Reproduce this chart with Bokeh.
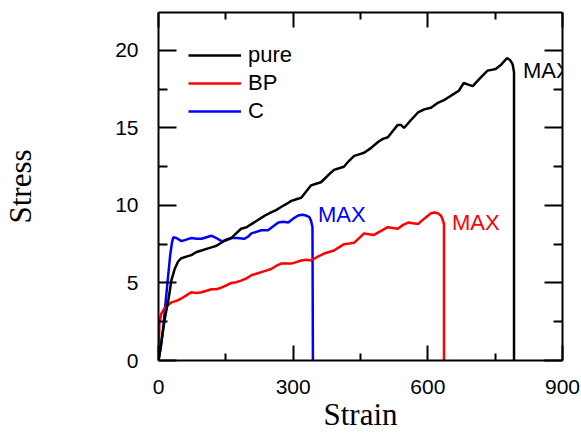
from bokeh.plotting import figure
from bokeh.models import LinearAxis, FixedTicker, Range1d, Legend, LegendItem, Label
from bokeh.embed import file_html
from bokeh.resources import INLINE

# ---- data ----
pure_strain = [0, 4, 8, 14, 22, 29, 36, 44, 51, 62, 73, 85, 96, 107, 118, 129, 140, 151, 162, 173,
               184, 196, 207, 218, 229, 240, 251, 262, 273, 285, 296, 307, 318, 329, 340, 351, 362,
               376, 391, 402, 413, 425, 436, 447, 458, 473, 489, 500, 511, 522, 533, 540, 547, 562,
               578, 592, 607, 621, 636, 647, 658, 669, 680, 690, 700, 716, 733, 742, 751, 764, 776,
               783, 789, 792, 792]
pure_stress = [0, 0.7, 1.5, 2.7, 3.9, 5.2, 5.9, 6.4, 6.6, 6.7, 6.8, 7.0, 7.1, 7.2, 7.3, 7.4, 7.6, 7.8,
               7.9, 8.2, 8.5, 8.6, 8.8, 9.0, 9.2, 9.4, 9.55, 9.7, 9.9, 10.1, 10.3, 10.4, 10.5, 10.9,
               11.3, 11.4, 11.5, 11.9, 12.3, 12.4, 12.5, 12.9, 13.2, 13.3, 13.4, 13.7, 14.1, 14.3,
               14.4, 14.8, 15.2, 15.2, 15.0, 15.5, 16.0, 16.2, 16.3, 16.6, 16.8, 17.0, 17.2, 17.4,
               17.9, 17.8, 17.7, 18.2, 18.7, 18.75, 18.8, 19.1, 19.5, 19.4, 19.1, 18.6, 0]

bp_strain = [0, 1, 2, 6, 14, 22, 29, 40, 51, 62, 73, 85, 96, 107, 118, 129, 140, 151, 162, 173, 184,
             196, 207, 218, 229, 240, 251, 262, 273, 285, 296, 307, 318, 329, 340, 355, 369, 380, 391,
             402, 413, 425, 436, 447, 458, 469, 480, 495, 511, 522, 533, 545, 556, 567, 578, 592, 607,
             615, 622, 629, 633, 636, 636]
bp_stress = [0, 1.2, 2.4, 3.0, 3.4, 3.6, 3.75, 3.85, 4.0, 4.2, 4.4, 4.35, 4.4, 4.5, 4.6, 4.6, 4.7,
             4.85, 5.0, 5.05, 5.15, 5.3, 5.5, 5.6, 5.7, 5.8, 5.9, 6.1, 6.25, 6.25, 6.25, 6.35, 6.45,
             6.5, 6.45, 6.7, 6.9, 7.0, 7.1, 7.3, 7.5, 7.55, 7.6, 7.9, 8.2, 8.15, 8.1, 8.35, 8.6, 8.55,
             8.5, 8.75, 8.9, 8.85, 8.8, 9.15, 9.5, 9.55, 9.5, 9.35, 9.1, 8.8, 0]

c_strain = [0, 5, 10, 14, 20, 26, 30, 33, 40, 51, 62, 73, 85, 96, 107, 118, 129, 140, 151, 162, 175,
            191, 200, 207, 218, 229, 244, 255, 267, 278, 289, 300, 311, 320, 329, 336, 340, 343, 344]
c_stress = [0, 0.8, 2.0, 3.2, 5.0, 6.8, 7.6, 7.95, 7.9, 7.7, 7.8, 7.9, 7.85, 7.85, 7.95, 8.05, 7.9,
            7.7, 7.75, 7.9, 7.9, 7.85, 8.0, 8.2, 8.3, 8.4, 8.4, 8.65, 8.9, 8.95, 8.9, 9.15, 9.35,
            9.4, 9.35, 9.25, 9.0, 8.6, 0]

series_names = ["pure", "BP", "C"]
max_label = "MAX"
x_title = "Strain"
y_title = "Stress"

x_ticks = [0, 300, 600, 900]
x_minor = [150, 450, 750]
y_ticks = [0, 5, 10, 15, 20]
y_minor = [2.5, 7.5, 12.5, 17.5]
x_lim = (0, 900)
y_lim = (0, 22.45)

SANS = "Liberation Sans"
SERIF = "Liberation Serif"

p = figure(width=581, height=434, output_backend="svg", toolbar_location=None,
           x_range=Range1d(*x_lim), y_range=Range1d(*y_lim),
           min_border_left=157, min_border_right=19, min_border_top=12, min_border_bottom=74,
           x_axis_label=x_title, y_axis_label=y_title)
p.grid.visible = False
p.outline_line_color = None
p.background_fill_color = "white"
p.border_fill_color = "white"


def style_axis(ax, major, minor, show):
    ax.axis_line_width = 2
    ax.axis_line_color = "black"
    ax.major_tick_line_width = 2
    ax.minor_tick_line_width = 2
    ax.major_tick_line_color = "black"
    ax.minor_tick_line_color = "black"
    ax.major_tick_in = major
    ax.major_tick_out = 0
    ax.minor_tick_in = minor
    ax.minor_tick_out = 0
    if show:
        ax.major_label_text_font = SANS
        ax.major_label_text_font_size = "21px"
        ax.major_label_text_color = "black"
        ax.axis_label_text_font = SERIF
        ax.axis_label_text_font_style = "normal"
        ax.axis_label_text_font_size = "31px"
        ax.axis_label_text_color = "black"
    else:
        ax.major_label_text_font_size = "1px"
        ax.major_label_text_color = None
        ax.major_label_standoff = 0


xax = p.xaxis[0]
xax.ticker = FixedTicker(ticks=x_ticks, minor_ticks=x_minor)
style_axis(xax, 15, 7, True)
xax.major_label_standoff = 19
xax.axis_label_standoff = 0

yax = p.yaxis[0]
yax.ticker = FixedTicker(ticks=y_ticks, minor_ticks=y_minor)
style_axis(yax, 18, 9, True)
yax.major_label_standoff = 20
yax.axis_label_standoff = 74

top = LinearAxis(ticker=FixedTicker(ticks=x_ticks, minor_ticks=x_minor))
style_axis(top, 15, 7, False)
p.add_layout(top, "above")

right = LinearAxis(ticker=FixedTicker(ticks=y_ticks, minor_ticks=y_minor))
style_axis(right, 18, 9, False)
p.add_layout(right, "right")

r_c = p.line(c_strain, c_stress, line_color="#0000ff", line_width=2.5)
r_bp = p.line(bp_strain, bp_stress, line_color="#ff0000", line_width=2.5)
r_pure = p.line(pure_strain, pure_stress, line_color="#000000", line_width=2.5)

legend = Legend(items=[LegendItem(label=series_names[0], renderers=[r_pure]),
                       LegendItem(label=series_names[1], renderers=[r_bp]),
                       LegendItem(label=series_names[2], renderers=[r_c])],
                location="top_left", margin=30, padding=0, glyph_width=53, glyph_height=20,
                label_height=20, spacing=2, label_standoff=7, border_line_color=None,
                background_fill_alpha=0, label_text_font=SANS, label_text_font_size="22px",
                label_text_color="black")
p.add_layout(legend)

for xs, ys, col, dx, dy in [(pure_strain, pure_stress, "#000000", 9, -12),
                            (c_strain, c_stress, "#0000ff", 5, 0),
                            (bp_strain, bp_stress, "#ff0000", 8, -10)]:
    p.add_layout(Label(x=xs[-1], y=max(ys), text=max_label, x_offset=dx, y_offset=dy,
                       text_baseline="middle", text_align="left", text_color=col,
                       text_font=SANS, text_font_size="22px"))

open("out.html", "w").write(file_html(p, INLINE))
